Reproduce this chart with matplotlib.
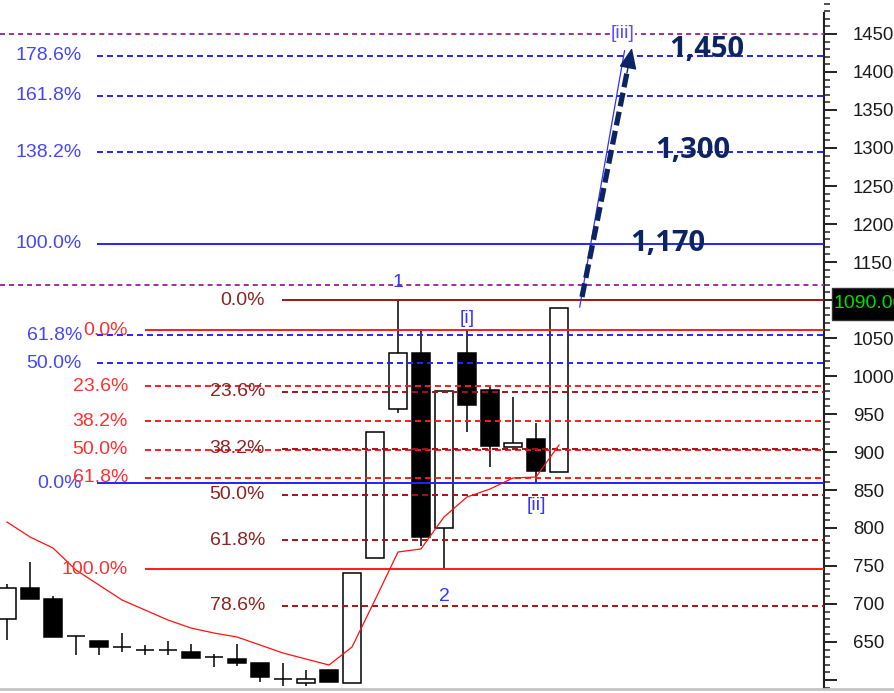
import matplotlib
matplotlib.use("Agg")
import matplotlib.pyplot as plt
from matplotlib import font_manager
from matplotlib.patches import Rectangle, FancyArrowPatch
from matplotlib.ticker import MultipleLocator, FuncFormatter
from matplotlib.lines import Line2D

# ---------------- data ----------------
opens  = [680.3, 721.1, 706.6, 657.9, 651.3, 643.4, 639.5, 639.5, 636.8, 630.3,
          627.6, 622.4, 601.3, 596.1, 613.2, 596.1, 760.5, 956.6, 1030.3, 800.0,
          1030.3, 981.6, 906.6, 917.1, 873.7]
highs  = [726.3, 755.3, 710.5, 657.9, 651.3, 661.8, 646.1, 651.3, 647.4, 634.2,
          647.4, 622.4, 622.4, 613.2, 613.2, 740.8, 926.3, 1100.0, 1059.2, 980.3,
          1060.5, 985.5, 972.4, 938.2, 1090.0]
lows   = [652.6, 706.6, 656.6, 632.9, 632.9, 636.8, 632.9, 632.9, 628.9, 617.1,
          618.4, 597.4, 592.1, 592.1, 597.4, 596.1, 760.5, 951.3, 776.3, 746.1,
          926.3, 880.3, 906.6, 860.5, 873.7]
closes = [721.1, 706.6, 656.6, 657.9, 643.4, 643.4, 639.5, 639.5, 628.9, 630.3,
          622.4, 603.9, 601.3, 601.3, 597.4, 740.8, 926.3, 1030.3, 788.2, 980.3,
          961.8, 907.9, 911.8, 875.0, 1090.0]
ma_values = [807.9, 788.2, 773.7, 744.7, 725.0, 705.3, 692.1, 678.9, 668.4, 661.8,
             656.6, 646.1, 635.5, 627.6, 619.7, 643.4, 705.3, 768.4, 772.4, 814.5,
             840.8, 851.3, 865.8, 867.1, 909.2]

purple_levels = [1450, 1120]
blue_fib_base, blue_fib_top = 859.0, 1174.0
blue_ratios = [0.0, 0.5, 0.618, 1.0, 1.382, 1.618, 1.786]
red_fib_top, red_fib_base = 1060.5, 746.0
red_ratios = [0.0, 0.236, 0.382, 0.5, 0.618, 1.0]
dred_fib_top, dred_fib_base = 1100.0, 588.0
dred_ratios = [0.0, 0.236, 0.382, 0.5, 0.618, 0.786]

wave_labels = ["1", "[i]", "[ii]", "2"]
wave_bars = [17, 20, 23, 19]
wave3_label = "[iii]"
projection_start = (24.9, 1090.8)
projection_end = (26.85, 1428.0)

target_labels = ["1,450", "1,300", "1,170"]
target_prices = [1430, 1297, 1175]
target_x = [30.43, 29.83, 28.74]

arrow_start = (25.0, 1104.0)
arrow_end = (27.17, 1431.6)

last_price = 1090.00
y_ticks_major = 50
y_ticks_minor = 10

# ---------------- style ----------------
plt.rcParams['lines.scale_dashes'] = False
names = {f.name for f in font_manager.fontManager.ttflist}
NARROW = 'Liberation Sans Narrow' if 'Liberation Sans Narrow' in names else 'Liberation Sans'
FIB_FS = 15.5 if NARROW == 'Liberation Sans Narrow' else 14
plt.rcParams['font.family'] = ['Liberation Sans', 'DejaVu Sans']

PURPLE = '#9b309f'
BLUE = '#2222ff'
BLUE_TXT = '#4545ff'
RED = '#ff1a1a'
RED_TXT = '#ff3030'
DRED = '#a01414'
DRED_TXT = '#8c2222'
NAVY = '#0c2461'

W, H = 895, 693
fig = plt.figure(figsize=(W / 100, H / 100), dpi=100)
ax = fig.add_axes([0, 5 / H, 824 / W, 688 / H])

px_per_unit = 0.76
y_top = 1450 + 34 / px_per_unit
y_bot = 1450 - (688 - 34) / px_per_unit
ax.set_ylim(y_bot, y_top)
ax.set_xlim(-7 / 23, (824 - 7) / 23)

# candles
for i, (o, h, l, c) in enumerate(zip(opens, highs, lows, closes)):
    ax.vlines(i, l, h, color='black', lw=1.1, zorder=2)
    up = c >= o
    ax.add_patch(Rectangle((i - 0.4, min(o, c)), 0.8, abs(c - o),
                           facecolor='white' if up else 'black',
                           edgecolor='black', lw=1.1, zorder=3))

xr = ax.get_xlim()[1]

def hline(y, x0, color, solid, dashes):
    if solid:
        ax.plot([x0, xr], [y, y], color=color, lw=1.4, zorder=4, solid_capstyle='butt')
    else:
        ax.plot([x0, xr], [y, y], color=color, lw=1.4, zorder=4, dashes=dashes)

# purple lines
for lv in purple_levels:
    hline(lv, ax.get_xlim()[0], PURPLE, False, (3.6, 2.9))

# blue extension
for r in blue_ratios:
    lv = blue_fib_base + r * (blue_fib_top - blue_fib_base)
    hline(lv, 3.9, BLUE, r in (0.0, 1.0), (4.3, 2.9))
    ax.text(3.26, lv, f"{r*100:.1f}%", ha='right', va='center', color=BLUE_TXT,
            fontsize=FIB_FS, family=[NARROW, 'DejaVu Sans'], zorder=6)

# red retracement
for r in red_ratios:
    lv = red_fib_top - r * (red_fib_top - red_fib_base)
    hline(lv, 6.0, RED, r in (0.0, 1.0), (4.3, 2.9))
    ax.text(5.26, lv, f"{r*100:.1f}%", ha='right', va='center', color=RED_TXT,
            fontsize=FIB_FS, family=[NARROW, 'DejaVu Sans'], zorder=6)

# dark red retracement
for r in dred_ratios:
    lv = dred_fib_top - r * (dred_fib_top - dred_fib_base)
    hline(lv, 11.95, DRED, r == 0.0, (4.3, 2.9))
    ax.text(11.22, lv, f"{r*100:.1f}%", ha='right', va='center', color=DRED_TXT,
            fontsize=FIB_FS, family=[NARROW, 'DejaVu Sans'], zorder=6)

# moving average
ax.plot(range(len(ma_values)), ma_values, color='#ff1010', lw=0.9, zorder=5)

# wave labels
offsets = {"1": 18, "[i]": 12, "[ii]": -23, "2": -28}
for lab, b in zip(wave_labels, wave_bars):
    base = highs[b] if offsets[lab] > 0 else lows[b]
    ax.annotate(lab, (b, base), xytext=(0, offsets[lab] * 0.72), textcoords='offset points',
                ha='center', va='center', color='#3535ff', fontsize=FIB_FS,
                family=[NARROW, 'DejaVu Sans'], zorder=7)

# projection wave line
ax.plot([projection_start[0], projection_end[0]], [projection_start[1], projection_end[1]],
        color='#3030ff', lw=0.9, zorder=6)
ax.text(26.78, 1451.3, wave3_label, ha='center', va='center', color='#5a4cff',
        fontsize=FIB_FS, family=[NARROW, 'DejaVu Sans'], zorder=7,
        bbox=dict(facecolor='white', edgecolor='none', pad=0.3))

# dashed arrow
fx = arrow_start[0] + 0.9 * (arrow_end[0] - arrow_start[0])
fy = arrow_start[1] + 0.9 * (arrow_end[1] - arrow_start[1])
ax.plot([arrow_start[0], fx], [arrow_start[1], fy], color=NAVY, lw=3.8,
        dashes=(10, 4), zorder=8, solid_capstyle='butt', dash_capstyle='butt')
ax.add_patch(FancyArrowPatch((fx, fy), arrow_end,
                             arrowstyle='-|>,head_length=13,head_width=5.5',
                             mutation_scale=1, color=NAVY, lw=1, zorder=8,
                             shrinkA=0, shrinkB=0))

# target labels
for lab, xp, yp in zip(target_labels, target_x, target_prices):
    ax.text(xp, yp, lab, ha='center', va='center', color=NAVY, fontsize=21,
            fontweight='bold', family=['Open Sans', 'DejaVu Sans'], zorder=9)

# axis
for s in ['top', 'left', 'bottom']:
    ax.spines[s].set_visible(False)
ax.spines['right'].set_linewidth(1.5)
ax.spines['right'].set_color('#222222')
ax.spines['right'].set_bounds(y_bot, 1450 + 21 / px_per_unit)
ax.set_xticks([])
ax.yaxis.tick_right()
ax.yaxis.set_major_locator(MultipleLocator(y_ticks_major))
ax.yaxis.set_minor_locator(MultipleLocator(y_ticks_minor))
ax.yaxis.set_major_formatter(FuncFormatter(lambda v, p: f"{v:.0f}" if 650 <= v <= 1450 else ""))
ax.tick_params(axis='y', which='major', length=9.4, width=1.4, color='#222222',
               labelsize=13.4, labelcolor='#1a1a1a', pad=11.5)
ax.tick_params(axis='y', which='minor', length=4.3, width=1.1, color='#222222')

# last-price box
fig.add_artist(Rectangle((832 / W, (H - 320) / H), (W - 832) / W, 32 / H,
                         transform=fig.transFigure, facecolor='black',
                         edgecolor='#333333', lw=1, zorder=20))
fig.text(834 / W, (H - 304) / H, f"{last_price:.2f}", ha='left', va='center',
         color='#00dd00', fontsize=14, zorder=21)

# bottom border
fig.add_artist(Line2D([0, 1], [(H - 689) / H] * 2, transform=fig.transFigure,
                      color='#c4c4c4', lw=2))

fig.savefig('out.png', dpi=100)
